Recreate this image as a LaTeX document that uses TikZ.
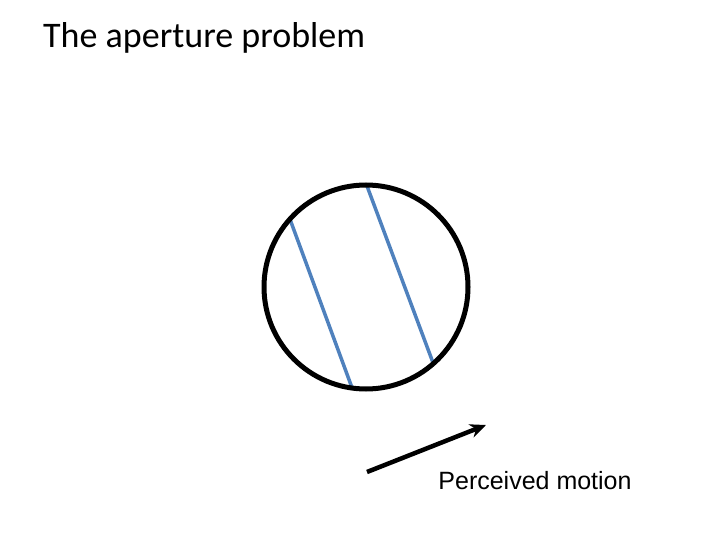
\documentclass[tikz,border=0pt]{standalone}
\usepackage{fontspec}
\setmainfont{Carlito}
\newfontfamily\arial{Liberation Sans}
\usetikzlibrary{calc,arrows.meta}
\definecolor{lineblue}{RGB}{79,129,189}
\begin{document}
\begin{tikzpicture}[x=1pt,y=-1pt,
  bar/.style={lineblue,line width=3.5pt},
  lbl/.style={inner sep=0pt}]
\useasboundingbox (0,0) rectangle (720,540);
\node[lbl,anchor=west,font=\fontsize{36}{40}\selectfont] (title) at (43,38) {The aperture problem};
\begin{scope}
\clip (366,287) circle (102);
\coordinate (a1) at (291,222); \coordinate (a2) at (351,385);
\coordinate (b1) at (367,186); \coordinate (b2) at (432,360);
\draw[bar] ($(a1)!-0.1!(a2)$) -- ($(a1)!1.1!(a2)$);
\draw[bar] ($(b1)!-0.1!(b2)$) -- ($(b1)!1.1!(b2)$);
\end{scope}
\node[circle,draw,line width=5pt,minimum size=204,inner sep=0pt] (ap) at (366,287) {};
\coordinate (s) at (367,472); \coordinate (e) at (486,425);
\draw[line width=4.5pt,-{Stealth[length=16pt,width=14pt]}] (s) -- (e);
\node[lbl,font=\arial\fontsize{25}{30}\selectfont] (pm) at (535,481) {Perceived motion};
\end{tikzpicture}
\end{document}
